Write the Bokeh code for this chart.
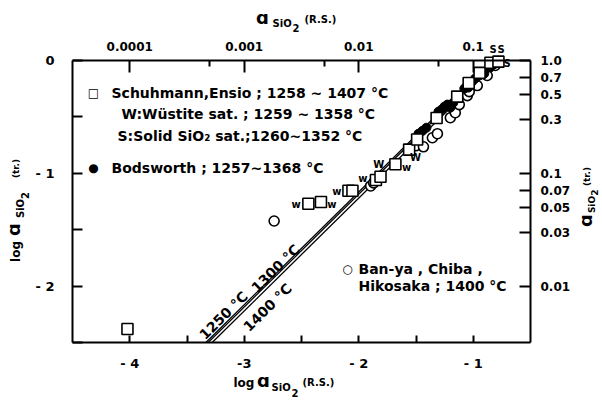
import math
from bokeh.plotting import figure
from bokeh.models import LinearAxis, FixedTicker, Range1d, Label, ColumnDataSource
from bokeh.core.properties import value
from bokeh.embed import file_html
from bokeh.resources import INLINE

# ---- data: log a_SiO2 (Raoultian, R.S.) vs log a_SiO2 (tridymite, tr.) ----
schuh_x = [-4.02, -2.44, -2.33, -2.09, -2.055, -1.85, -1.81, -1.68, -1.56, -1.49,
           -1.32, -1.14, -1.04, -0.945, -0.85, -0.78]
schuh_y = [-2.38, -1.27, -1.255, -1.155, -1.155, -1.06, -1.03, -0.92, -0.79, -0.70,
           -0.51, -0.32, -0.20, -0.11, -0.02, -0.01]

bods_x = [-1.478, -1.443, -1.409, -1.304, -1.278, -1.252, -1.226, -1.200, -1.174,
          -1.078, -1.043, -1.009, -0.983, -0.948, -0.904, -0.852]
bods_y = [-0.649, -0.623, -0.596, -0.454, -0.436, -0.409, -0.391, -0.418, -0.374,
          -0.249, -0.240, -0.187, -0.160, -0.133, -0.116, -0.062]

banya_x = [-2.739, -1.896, -1.870, -1.504, -1.435, -1.357, -1.313, -1.200, -1.157,
           -1.122, -1.052, -1.035, -0.965, -0.878, -0.809]
banya_y = [-1.423, -1.112, -1.085, -0.756, -0.765, -0.685, -0.649, -0.507, -0.463,
           -0.391, -0.311, -0.276, -0.222, -0.133, -0.044]

# W = wustite saturated, S = solid SiO2 saturated
tag_text = ["w", "w", "w", "w", "W", "w", "W", "S", "S", "S"]
tag_x = [-2.548, -2.235, -2.191, -1.965, -1.826, -1.583, -1.504, -0.704, -0.826, -0.757]
tag_y = [-1.281, -1.281, -1.165, -1.050, -0.925, -0.952, -0.863, -0.027, 0.098, 0.098]

# conversion lines: log a(tr.) = log a(R.S.) + offset
line_temps = ["1250 °C", "1300 °C", "1400 °C"]
line_offsets = [0.835, 0.815, 0.78]

x_ticks = [-4, -3, -2, -1]
x_minor = [-3.5, -2.5, -1.5]
x_tick_labels = ["- 4", "-3", "- 2", "- 1"]
top_tick_labels = ["0.0001", "0.001", "0.01", "0.1"]
top_minor = [math.log10(0.0005), math.log10(0.005), math.log10(0.05)]
y_ticks = [-2, -1, 0]
y_minor = [-2.5, -1.5, -0.5]
y_tick_labels = ["- 2", "- 1", "0"]
right_values = [1.0, 0.7, 0.5, 0.3, 0.1, 0.07, 0.05, 0.03, 0.01]
right_labels = ["1.0", "0.7", "0.5", "0.3", "0.1", "0.07", "0.05", "0.03", "0.01"]

# ---- geometry: plot box inside a full-canvas frame ----
W, H = 602, 408
XA, XB, YA, YB = -4.5, -0.5, -2.5, 0.0
BL, BT, BR, BB = 72, 60, 530, 342          # box edges in page pixels
sx = (BR - BL) / (XB - XA)
sy = (BB - BT) / (YB - YA)
FONT = "DejaVu Sans"

p = figure(width=W, height=H,
           x_range=Range1d(XA - BL / sx, XB + (W - BR) / sx),
           y_range=Range1d(YA - (H - BB) / sy, YB + BT / sy),
           output_backend="svg", toolbar_location=None,
           x_axis_location=None, y_axis_location=None,
           min_border=0, min_border_left=0, min_border_right=0,
           min_border_top=0, min_border_bottom=0)
p.grid.visible = False
p.outline_line_color = None
p.background_fill_color = "white"
p.border_fill_color = "white"


def make_axis(ticks, minor, labels, loc, bounds, size="12px", tick_in=8, minor_in=7,
              standoff=10):
    ax = LinearAxis(ticker=FixedTicker(ticks=ticks, minor_ticks=minor),
                    major_label_overrides=dict(zip(ticks, labels)),
                    fixed_location=loc, bounds=bounds)
    ax.axis_line_color = "black"
    ax.axis_line_width = 2
    ax.major_tick_line_width = 2
    ax.minor_tick_line_width = 2
    ax.major_tick_in = tick_in
    ax.major_tick_out = 0
    ax.minor_tick_in = minor_in
    ax.minor_tick_out = 0
    ax.major_label_standoff = standoff
    ax.major_label_text_font = FONT
    ax.major_label_text_font_style = "bold"
    ax.major_label_text_font_size = size
    ax.major_label_text_color = "black"
    return ax


p.add_layout(make_axis(x_ticks, x_minor, x_tick_labels, YA, (XA, XB), size="13px",
                       tick_in=7, minor_in=7, standoff=13), "below")
p.add_layout(make_axis(x_ticks, top_minor, top_tick_labels, YB, (XA, XB),
                       tick_in=12, minor_in=6, standoff=10), "above")
p.add_layout(make_axis(y_ticks, y_minor, y_tick_labels, XA, (YA, YB), size="13px",
                       tick_in=10, minor_in=10, standoff=18), "left")
r_ticks = [math.log10(v) for v in right_values]
p.add_layout(make_axis(r_ticks, [], right_labels, XB, (YA, YB),
                       tick_in=11, standoff=10), "right")

# conversion lines
for off in line_offsets:
    xs = [YA - off, YB - off]
    ys = [x + off for x in xs]
    p.line(xs, ys, line_color="black", line_width=1.3)

# data markers
p.scatter(banya_x, banya_y, marker="circle", size=10, fill_color="white",
          line_color="black", line_width=1.6)
p.scatter(bods_x, bods_y, marker="circle", size=9, fill_color="black", line_color="black")
p.scatter(schuh_x, schuh_y, marker="square", size=11, fill_color="white",
          line_color="black", line_width=1.6)

tags = ColumnDataSource(dict(x=tag_x, y=tag_y, t=tag_text))
p.text("x", "y", text="t", source=tags, text_font=value(FONT), text_font_style="bold",
       text_font_size="10px", text_align="center", text_baseline="middle")


def put(txt, x, y, size=14, angle=0.0, align="left", baseline="middle",
        font=FONT, style="bold"):
    p.add_layout(Label(x=x, y=H - y, x_units="screen", y_units="screen",
                       text=txt, text_font=font, text_font_size=f"{size}px",
                       text_font_style=style, text_align=align, text_baseline=baseline,
                       angle=angle, text_color="black"))


# legend block
put("□", 93, 92, size=12, align="center", style="normal")
put("Schuhmann,Ensio ; 1258 ~ 1407 °C", 111, 92)
put("W:Wüstite sat. ;  1259 ~ 1358 °C", 121, 113)
put("S:Solid SiO₂ sat.;1260~1352 °C", 117, 135)
put("●", 93, 167, size=12, align="center", style="normal")
put("Bodsworth ; 1257~1368 °C", 111, 167)

put("○", 347, 268, size=12, align="center", style="normal")
put("Ban-ya , Chiba ,", 358, 268)
put("Hikosaka ; 1400 °C", 358, 285)

# temperature labels along the lines
ang = math.atan(sy / sx)
put(line_temps[0], 223, 315, angle=ang, align="center")
put(line_temps[1], 275, 268, angle=ang, align="center")
put(line_temps[2], 267, 307, angle=ang, align="center")

# axis titles: a_SiO2 with subscript pieces
put("ɑ", 262, 17, size=18, align="center")
put("SiO", 272, 23, size=10)
put("2", 292, 27, size=10)
put("(R.S.)", 304, 19, size=10)

put("log", 233, 382, size=12)
put("ɑ", 263, 380, size=18, align="center")
put("SiO", 271, 387, size=10)
put("2", 291, 392, size=10)
put("(R.S.)", 302, 382, size=10)

half = math.pi / 2
put("log", 15, 251, size=12, angle=half, align="center")
put("ɑ", 13, 229, size=18, angle=half, align="center")
put("SiO", 20, 208, size=10, angle=half, align="center")
put("2", 24, 195, size=10, angle=half, align="center")
put("(tr.)", 15, 168, size=9, angle=half, align="center")

put("ɑ", 585, 220, size=18, angle=half, align="center")
put("SiO", 591, 204, size=9, angle=half, align="center")
put("2", 594, 192, size=9, angle=half, align="center")
put("(tr.)", 586, 176, size=9, angle=half, align="center")

open("out.html", "w").write(file_html(p, INLINE))
